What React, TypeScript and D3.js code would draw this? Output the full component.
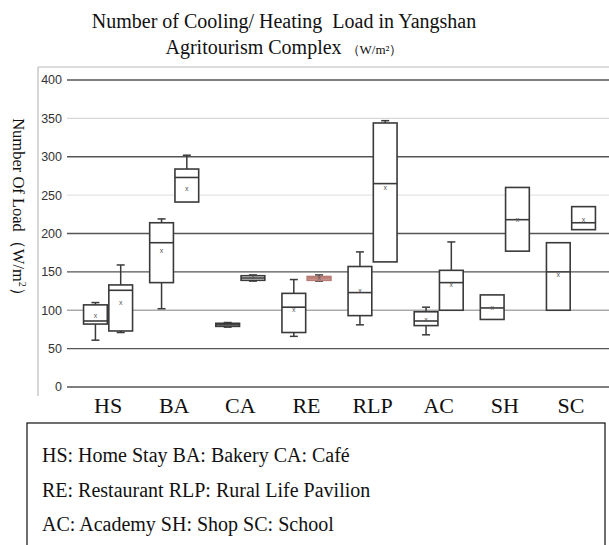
import React from 'react';
import * as d3 from 'd3';

// categories on the x axis
const categories = ['HS', 'BA', 'CA', 'RE', 'RLP', 'AC', 'SH', 'SC'];

// first box of each pair
const min1 = [61, 102, 78, 66, 81, 68, 88, 100];
const q1a = [82, 136, 79, 71, 93, 80, 88, 100];
const med1 = [86, 188, 81, 104, 123, 86, 103, 150];
const q3a = [107, 214, 83, 122, 157, 98, 120, 188];
const max1 = [110, 219, 84, 140, 176, 104, 120, 188];
const mean1 = [92, 177, 80, 100, 125, 88, 103, 146];

// second box of each pair
const min2 = [71, 241, 138, 138, 163, 100, 177, 205];
const q1b = [73, 241, 139, 139, 163, 100, 177, 205];
const med2 = [126, 273, 142, 142, 265, 136, 218, 214];
const q3b = [133, 284, 145, 144, 344, 152, 260, 235];
const max2 = [159, 302, 146, 146, 347, 189, 260, 235];
const mean2 = [109, 258, 143, 142, 259, 133, 218, 218];

const yTicks = [0, 50, 100, 150, 200, 250, 300, 350, 400];
const gridShade = ['#555', '#555', '#aaa', '#555', '#555', '#e4e4e4', '#555', '#d8d8d8', '#555'];

const legendLines = [
  'HS: Home Stay BA: Bakery CA: Café',
  'RE: Restaurant RLP: Rural Life Pavilion',
  'AC: Academy SH: Shop SC: School',
];

const serif = '"Liberation Serif", "Times New Roman", serif';
const sans = '"Liberation Sans", Arial, sans-serif';

type Box = { cat: string; grp: string; lo: number; q1: number; med: number; q3: number; hi: number; mean: number };

const boxes: Box[] = [];
categories.forEach((c, i) => {
  boxes.push({ cat: c, grp: 'a', lo: min1[i], q1: q1a[i], med: med1[i], q3: q3a[i], hi: max1[i], mean: mean1[i] });
  boxes.push({ cat: c, grp: 'b', lo: min2[i], q1: q1b[i], med: med2[i], q3: q3b[i], hi: max2[i], mean: mean2[i] });
});

export default function App() {
  const width = 609;
  const height = 545;

  const x = d3.scaleBand().domain(categories).range([75, 604]);
  const inner = d3.scaleBand().domain(['a', 'b']).range([-24.5, 24.5]).paddingInner(0.06);
  const y = d3.scaleLinear().domain([0, 400]).range([387, 80]);
  const capW = 8;

  return (
    <svg width={width} height={height} style={{ position: 'absolute', left: 0, top: 0, background: '#fff' }}>
      {/* title */}
      <text x={284} y={28} textAnchor="middle" fontFamily={serif} fontSize={20} fill="#111" style={{ whiteSpace: 'pre' }}>
        {'Number of Cooling/ Heating  Load in Yangshan'}
      </text>
      <text x={284} y={54} textAnchor="middle" fontFamily={serif} fontSize={20} fill="#111">
        Agritourism Complex <tspan fontSize={13}>（W/m²）</tspan>
      </text>

      {/* plot frame */}
      <line x1={38} x2={width} y1={67} y2={67} stroke="#d0d0d0" strokeWidth={1.5} />
      <line x1={38} x2={38} y1={67} y2={396} stroke="#c8c8c8" strokeWidth={1.5} />

      {/* grid + y ticks */}
      {yTicks.map((t, i) => (
        <g key={t}>
          <line x1={67} x2={width} y1={y(t)} y2={y(t)} stroke={gridShade[i]} strokeWidth={1.4} />
          <text x={62} y={y(t)} dy="0.35em" textAnchor="end" fontFamily={sans} fontSize={12.5} fill="#333">
            {t}
          </text>
        </g>
      ))}

      {/* y axis title */}
      <text
        transform={`translate(13, 211) rotate(90)`}
        textAnchor="middle"
        fontFamily={serif}
        fontSize={16.5}
        fill="#111"
      >
        Number Of Load（W/m<tspan fontSize={10} dy={-6}>2</tspan><tspan dy={6}>）</tspan>
      </text>

      {/* boxes */}
      {boxes.map((b) => {
        const x0 = (x(b.cat) as number) + x.bandwidth() / 2 + (inner(b.grp) as number);
        const w = inner.bandwidth();
        const cx = x0 + w / 2;
        const redBox = b.cat === 'RE' && b.grp === 'b';
        const stroke = redBox ? '#b87a74' : '#3a3a3a';
        return (
          <g key={b.cat + b.grp}>
            {b.hi > b.q3 && (
              <>
                <line x1={cx} x2={cx} y1={y(b.q3)} y2={y(b.hi)} stroke="#3a3a3a" strokeWidth={1.5} />
                <line x1={cx - capW / 2} x2={cx + capW / 2} y1={y(b.hi)} y2={y(b.hi)} stroke="#3a3a3a" strokeWidth={1.5} />
              </>
            )}
            {b.lo < b.q1 && (
              <>
                <line x1={cx} x2={cx} y1={y(b.q1)} y2={y(b.lo)} stroke="#3a3a3a" strokeWidth={1.5} />
                <line x1={cx - capW / 2} x2={cx + capW / 2} y1={y(b.lo)} y2={y(b.lo)} stroke="#3a3a3a" strokeWidth={1.5} />
              </>
            )}
            <rect
              x={x0}
              y={y(b.q3)}
              width={w}
              height={Math.max(1, y(b.q1) - y(b.q3))}
              fill={redBox ? '#d9a39c' : '#fff'}
              stroke={stroke}
              strokeWidth={1.6}
            />
            <line x1={x0} x2={x0 + w} y1={y(b.med)} y2={y(b.med)} stroke={stroke} strokeWidth={1.6} />
            <text x={cx} y={y(b.mean)} dy="0.3em" textAnchor="middle" fontFamily={sans} fontSize={7} fill="#555">
              x
            </text>
          </g>
        );
      })}

      {/* category labels */}
      {categories.map((c) => (
        <text
          key={c}
          x={(x(c) as number) + x.bandwidth() / 2}
          y={413}
          textAnchor="middle"
          fontFamily={serif}
          fontSize={22}
          fill="#111"
        >
          {c}
        </text>
      ))}

      {/* abbreviation legend */}
      <rect x={27} y={423} width={578} height={140} fill="none" stroke="#222" strokeWidth={1.3} />
      {legendLines.map((l, i) => (
        <text key={l} x={42} y={462 + i * 34.5} fontFamily={serif} fontSize={20} fill="#111">
          {l}
        </text>
      ))}
    </svg>
  );
}
